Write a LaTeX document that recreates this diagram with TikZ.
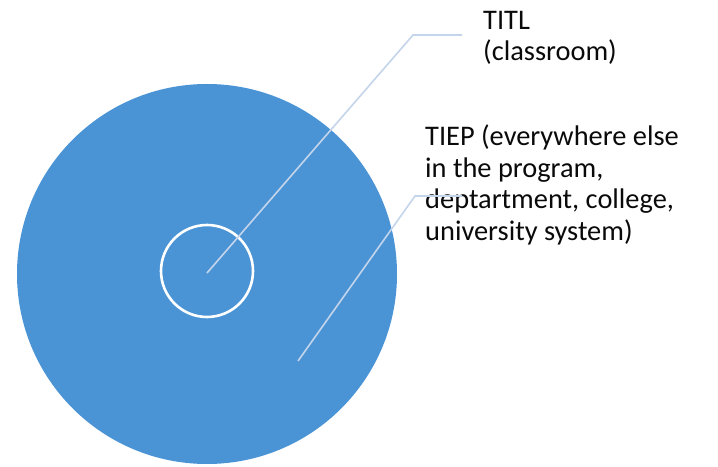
\documentclass[tikz,border=0pt]{standalone}
\usepackage{fontspec}
\setmainfont{Carlito}
\usepackage{tikz}

\definecolor{diskblue}{RGB}{74,148,214}
\definecolor{leadergray}{RGB}{196,212,234}
\definecolor{inktext}{RGB}{10,10,10}

\tikzset{
  leaderline/.style={draw=leadergray, line width=1.6bp},
  legendtext/.style={anchor=north west, inner sep=0pt, align=left, text=inktext,
    font=\fontsize{28.5}{31.5}\selectfont}
}

\begin{document}
\begin{tikzpicture}[x=1bp,y=-1bp]
\newcommand{\outerrad}{190}
\newcommand{\innerrad}{46}

\useasboundingbox (0,0) rectangle (718,467);

\fill[diskblue] (207,274) circle (\outerrad);
\draw[white, line width=2.6bp] (207,271) circle (\innerrad);

\node[legendtext] (titl) at (483,11) {TITL\\(classroom)};
\node[legendtext] (tiep) at (425,125) {TIEP (everywhere else\\in the program,\\deptartment, college,\\university system)};

\coordinate (titlpin) at (207,273);
\coordinate (titlknee) at (413,35);
\coordinate (titlend) at (462,35);
\coordinate (tieppin) at (298,361);
\coordinate (tiepknee) at (415,196);
\coordinate (tiepend) at (462,196);

\draw[leaderline] (titlpin) -- (titlknee) -- (titlend);
\draw[leaderline] (tieppin) -- (tiepknee) -- (tiepend);
\end{tikzpicture}
\end{document}
